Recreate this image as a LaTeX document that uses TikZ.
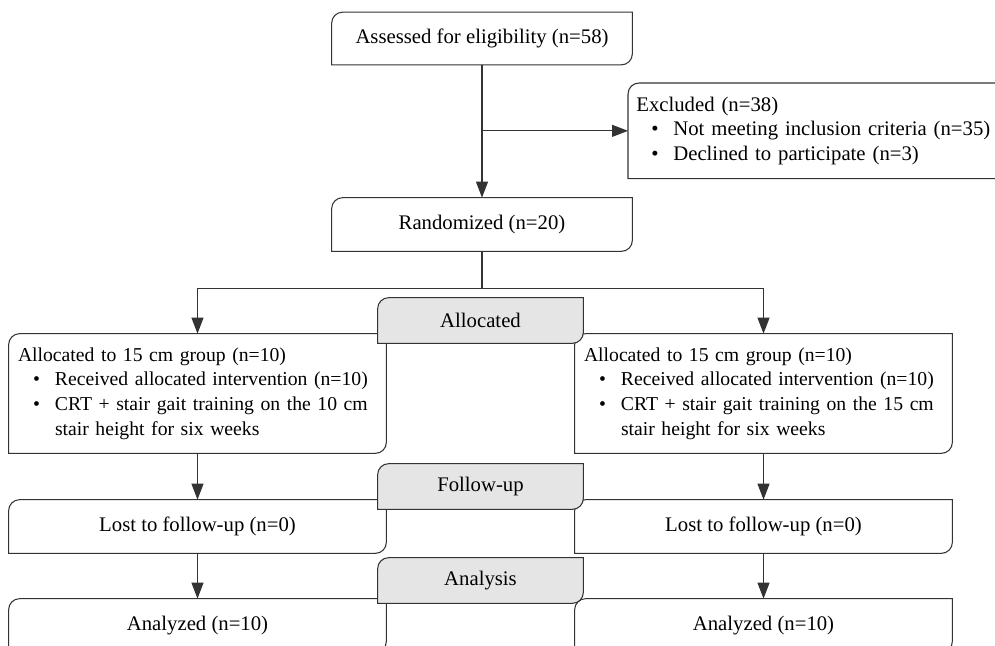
\documentclass[tikz,border=0pt]{standalone}
\usepackage{fontspec}
\setmainfont{Liberation Serif}
\usetikzlibrary{arrows.meta, positioning, calc}

\tikzset{
  every node/.style={font=\fontsize{11.8}{14}\selectfont},
  line/.style={line width=0.6pt, draw=black!80},
  arr/.style={line, -{Triangle[length=3.2mm,width=2.4mm]}},
  box/.style={minimum width=6.0cm, minimum height=1.04cm, inner sep=0.18cm},
  grpbox/.style={font=\fontsize{11.2}{14}\selectfont, text width=7.18cm, minimum height=2.38cm, inner sep=0.18cm, align=left},
  smallbox/.style={minimum width=7.54cm, minimum height=1.06cm, inner sep=0.18cm},
  stage/.style={minimum width=4.1cm, minimum height=0.9cm, inner sep=0pt},
}
% outline with rounded top left and bottom right corners
\newcommand{\tlbr}[2][]{%
  \draw[line,#1] ($(#2.north west)+(0,-0.22)$) arc[start angle=180, end angle=90, radius=0.22]
    -- (#2.north east) -- ($(#2.south east)+(0,0.22)$)
    arc[start angle=0, end angle=-90, radius=0.22] -- (#2.south west) -- cycle;}
\newcommand{\bul}{\hspace*{0.3cm}\makebox[0.44cm][l]{\textbullet}}
\newcommand{\cont}{\hspace*{0.74cm}}

\begin{document}
\begin{tikzpicture}
  \clip (0,0) rectangle (19.9,-12.9);

  % enrolment
  \node[box] (assess) at (9.64,-0.77) {Assessed for eligibility (n=58)};
  \node[box, minimum height=1.06cm] (rand) at (9.64,-4.49) {Randomized (n=20)};
  \node[anchor=north west, text width=7.3cm, minimum height=1.9cm, inner sep=0.16cm, align=left] (excl) at (12.56,-1.66)
    {Excluded (n=38)\\
     \bul Not meeting inclusion criteria (n=35)\\
     \bul Declined to participate (n=3)};

  % the two groups
  \node[grpbox] (alloc1) at (3.95,-7.87)
    {Allocated to 15 cm group (n=10)\\
     \bul Received allocated intervention (n=10)\\
     \bul CRT + stair gait training on the 10 cm\\
     \cont stair height for six weeks};
  \node[grpbox] (alloc2) at (15.27,-7.87)
    {Allocated to 15 cm group (n=10)\\
     \bul Received allocated intervention (n=10)\\
     \bul CRT + stair gait training on the 15 cm\\
     \cont stair height for six weeks};
  \node[smallbox] (lost1) at (3.95,-10.53) {Lost to follow-up (n=0)};
  \node[smallbox] (lost2) at (15.27,-10.53) {Lost to follow-up (n=0)};
  \node[smallbox] (anal1) at (3.95,-12.51) {Analyzed (n=10)};
  \node[smallbox] (anal2) at (15.27,-12.51) {Analyzed (n=10)};

  \foreach \n in {assess, rand, excl, alloc1, alloc2, lost1, lost2, anal1, anal2}
    \tlbr{\n};

  % connectors
  \draw[arr] (assess) -- (rand);
  \draw[arr] (assess.south |- excl.west) -- (excl.west);
  \coordinate[below=0.74cm of rand] (split);
  \draw[line] (rand) -- (split);
  \draw[arr] (split) -| (alloc1.north);
  \draw[arr] (split) -| (alloc2.north);
  \draw[arr] (alloc1) -- (lost1);
  \draw[arr] (alloc2) -- (lost2);
  \draw[arr] (lost1) -- (anal1);
  \draw[arr] (lost2) -- (anal2);

  % stage labels
  \node[stage] (allocst) at (9.61,-6.41) {};
  \node[stage] (followst) at (9.61,-9.73) {};
  \node[stage] (analst) at (9.61,-11.61) {};
  \foreach \n in {allocst, followst, analst}
    \tlbr[fill=gray!20]{\n};
  \node (allocsttxt) at (allocst) {Allocated};
  \node (followsttxt) at (followst) {Follow-up};
  \node (analsttxt) at (analst) {Analysis};
\end{tikzpicture}
\end{document}
